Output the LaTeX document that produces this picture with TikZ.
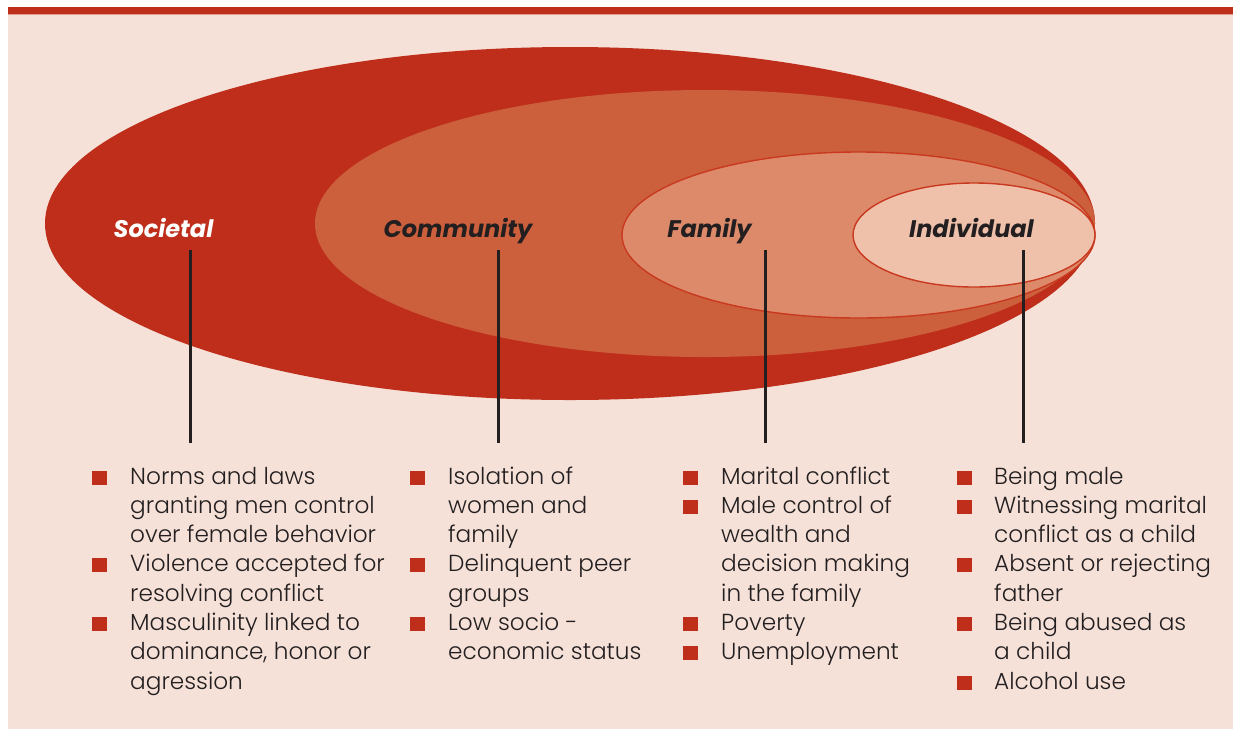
\documentclass[tikz,border=0pt]{standalone}
\usepackage{fontspec}
\setmainfont{Poppins}
\newfontfamily\lightfont{Poppins Light}
\definecolor{redA}{HTML}{BE2E1A}
\definecolor{redB}{HTML}{CD603C}
\definecolor{redC}{HTML}{DD8A6B}
\definecolor{redD}{HTML}{EFC1AB}
\definecolor{edge}{HTML}{C8391F}
\definecolor{panel}{HTML}{F5E1D8}
\definecolor{ink}{HTML}{231F20}
\tikzset{
  txt/.style={anchor=base west, inner sep=0pt, text=ink, font=\lightfont\fontsize{23.2}{29.3}\selectfont},
  lvl/.style={anchor=base, inner sep=0pt, font=\fontsize{24}{28}\selectfont\bfseries\itshape},
  bul/.style={fill=redA, minimum width=15pt, minimum height=14pt, inner sep=0pt, anchor=center},
  stem/.style={draw=ink, line width=3pt},
}
\newcommand{\bl}[3]{% x, line index, name
  \node[bul] (#3) at (#1, 484+29.3*#2-6.5) {};}
\newcommand{\tl}[4]{% x, line index, name, text
  \node[txt] (#3) at (#1, 484+29.3*#2) {#4};}
\begin{document}
\begin{tikzpicture}[x=1pt,y=-1pt]
\useasboundingbox (0,0) rectangle (1233,729);
\fill[white] (0,0) rectangle (1233,729);
\fill[panel] (8,14) rectangle (1233,729);
\fill[redA] (8,7) rectangle (1233,14);
\fill[redA!40!panel] (8,14) rectangle (1233,15);
% ellipses
\fill[redA] (570,223.5) ellipse [x radius=525, y radius=176.5];
\fill[redB] (705,223.5) ellipse [x radius=390, y radius=133.5];
\filldraw[fill=redC, draw=edge, line width=1.4pt] (858.5,235) ellipse [x radius=236.5, y radius=83];
\filldraw[fill=redD, draw=edge, line width=1.4pt] (974,235) ellipse [x radius=121, y radius=52];
% level labels
\node[lvl, text=white] (soc) at (163.5,237) {Societal};
\node[lvl, text=ink] (com) at (458,237) {Community};
\node[lvl, text=ink] (fam) at (709.5,237) {Family};
\node[lvl, text=ink] (ind) at (971.5,237) {Individual};
% stems
\coordinate (socT) at (190,250); \coordinate (socB) at (190,443);
\coordinate (comT) at (498,250); \coordinate (comB) at (498,443);
\coordinate (famT) at (765,250); \coordinate (famB) at (765,443);
\coordinate (indT) at (1023,250); \coordinate (indB) at (1023,443);
\draw[stem] (socT) -- (socB);
\draw[stem] (comT) -- (comB);
\draw[stem] (famT) -- (famB);
\draw[stem] (indT) -- (indB);
% Societal
\bl{99}{0}{sb1}\bl{99}{3}{sb2}\bl{99}{5}{sb3}
\tl{130}{0}{s0}{Norms and laws}
\tl{130}{1}{s1}{granting men control}
\tl{130}{2}{s2}{over female behavior}
\tl{130}{3}{s3}{Violence accepted for}
\tl{130}{4}{s4}{resolving conflict}
\tl{130}{5}{s5}{Masculinity linked to}
\tl{130}{6}{s6}{dominance, honor or}
\tl{130}{7}{s7}{agression}
% Community
\bl{417}{0}{cb1}\bl{417}{3}{cb2}\bl{417}{5}{cb3}
\tl{448}{0}{c0}{Isolation of}
\tl{448}{1}{c1}{women and}
\tl{448}{2}{c2}{family}
\tl{448}{3}{c3}{Delinquent peer}
\tl{448}{4}{c4}{groups}
\tl{448}{5}{c5}{Low socio -}
\tl{448}{6}{c6}{economic status}
% Family
\bl{690}{0}{fb1}\bl{690}{1}{fb2}\bl{690}{5}{fb3}\bl{690}{6}{fb4}
\tl{721}{0}{f0}{Marital conflict}
\tl{721}{1}{f1}{Male control of}
\tl{721}{2}{f2}{wealth and}
\tl{721}{3}{f3}{decision making}
\tl{721}{4}{f4}{in the family}
\tl{721}{5}{f5}{Poverty}
\tl{721}{6}{f6}{Unemployment}
% Individual
\bl{964}{0}{ib1}\bl{964}{1}{ib2}\bl{964}{3}{ib3}\bl{964}{5}{ib4}\bl{964}{7}{ib5}
\tl{994}{0}{i0}{Being male}
\tl{994}{1}{i1}{Witnessing marital}
\tl{994}{2}{i2}{conflict as a child}
\tl{994}{3}{i3}{Absent or rejecting}
\tl{994}{4}{i4}{father}
\tl{994}{5}{i5}{Being abused as}
\tl{994}{6}{i6}{a child}
\tl{994}{7}{i7}{Alcohol use}
\end{tikzpicture}
\end{document}
